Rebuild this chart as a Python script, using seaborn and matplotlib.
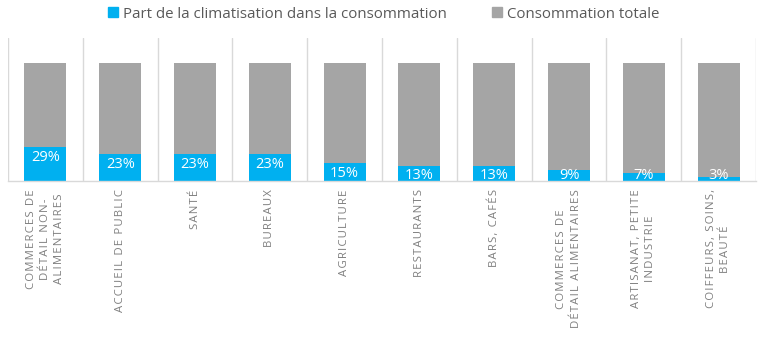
import matplotlib
matplotlib.use("Agg")
import matplotlib.pyplot as plt
from matplotlib.lines import Line2D
import seaborn as sns
import pandas as pd

categories = [
    "COMMERCES DE\nDÉTAIL NON-\nALIMENTAIRES",
    "ACCUEIL DE PUBLIC",
    "SANTÉ",
    "BUREAUX",
    "AGRICULTURE",
    "RESTAURANTS",
    "BARS, CAFÉS",
    "COMMERCES DE\nDÉTAIL ALIMENTAIRES",
    "ARTISANAT, PETITE\nINDUSTRIE",
    "COIFFEURS, SOINS,\nBEAUTÉ",
]
clim_share = [29, 23, 23, 23, 15, 13, 13, 9, 7, 3]
total = [100, 100, 100, 100, 100, 100, 100, 100, 100, 100]
series_names = ["Part de la climatisation dans la consommation", "Consommation totale"]

BLUE = "#00b0f0"
GREY = "#a5a5a5"
SEP = "#d9d9d9"
TXT = "#595959"
LBL = "#7f7f7f"

sns.set_theme(style="white")
plt.rcParams["font.family"] = ["Open Sans", "DejaVu Sans"]

df = pd.DataFrame({"cat": categories, "clim": clim_share, "total": total})

fig = plt.figure(figsize=(7.67, 3.45), dpi=100)
ax = fig.add_axes([8 / 767, 1 - 181 / 345, (756 - 8) / 767, (181 - 38) / 345])

sns.barplot(data=df, x="cat", y="total", color=GREY, width=0.56, ax=ax,
            saturation=1, order=categories, linewidth=0, edgecolor="none")
sns.barplot(data=df, x="cat", y="clim", color=BLUE, width=0.56, ax=ax,
            saturation=1, order=categories, linewidth=0, edgecolor="none")

ax.set_ylim(0, 121)
ax.set_xlim(-0.5, len(categories) - 0.5)
ax.set_yticks([])
ax.set_xlabel("")
ax.set_ylabel("")

# separators
ax.set_xticks([i - 0.5 for i in range(len(categories) + 1)], minor=True)
ax.grid(which="minor", axis="x", color=SEP, linewidth=1)
ax.tick_params(which="both", length=0)

for s in ["top", "left", "right"]:
    ax.spines[s].set_visible(False)
ax.spines["bottom"].set_color(SEP)
ax.spines["bottom"].set_linewidth(1)


def spaced(s):
    return "\n".join("\u200a".join(line) for line in s.split("\n"))


ax.set_xticks(range(len(categories)))
ax.set_xticklabels([spaced(c) for c in categories], rotation=90, ha="center",
                   va="top", multialignment="center", fontsize=8.2, color=LBL,
                   linespacing=1.4)
ax.tick_params(axis="x", which="major", pad=6)

for i, v in enumerate(clim_share):
    y = max(v - 9, 5)
    ax.text(i, y, f"{v}%", ha="center", va="center", color="white",
            fontsize=10.5, clip_on=True)

handles = [
    Line2D([0], [0], marker="s", linestyle="", markersize=6.5,
           markerfacecolor=BLUE, markeredgecolor=BLUE),
    Line2D([0], [0], marker="s", linestyle="", markersize=6.5,
           markerfacecolor=GREY, markeredgecolor=GREY),
]
fig.legend(handles, series_names, loc="center", bbox_to_anchor=(0.5, 1 - 14 / 345),
           ncol=2, frameon=False, fontsize=10.8, labelcolor=TXT,
           handlelength=0.7, handletextpad=0.3, columnspacing=3.0)

fig.savefig("out.png", dpi=100)
